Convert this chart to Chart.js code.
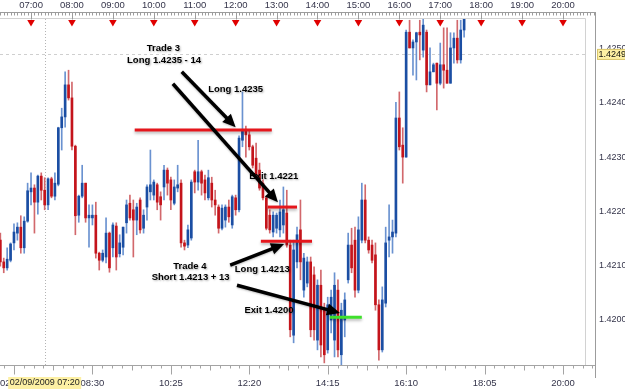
<!DOCTYPE html>
<html><head><meta charset="utf-8">
<script src="https://cdn.jsdelivr.net/npm/chart.js@4.4.0/dist/chart.umd.min.js"></script>
<style>html,body{margin:0;padding:0;background:#fff;}#wrap{width:625px;height:390px;}</style>
</head><body><div id="wrap"><canvas id="c" width="625" height="390"></canvas></div>
<script>
// ---------- data (5-minute bars, 02/09/2009) ----------
const times = [
'06:15','06:20','06:25','06:30','06:35','06:40','06:45','06:50','06:55',
'07:00','07:05','07:10','07:15','07:20','07:25','07:30','07:35','07:40','07:45','07:50','07:55',
'08:00','08:05','08:10','08:15','08:20','08:25','08:30','08:35','08:40','08:45','08:50','08:55',
'09:00','09:05','09:10','09:15','09:20','09:25','09:30','09:35','09:40','09:45','09:50','09:55',
'10:00','10:05','10:10','10:15','10:20','10:25','10:30','10:35','10:40','10:45','10:50','10:55',
'11:00','11:05','11:10','11:15','11:20','11:25','11:30','11:35','11:40','11:45','11:50','11:55',
'12:00','12:05','12:10','12:15','12:20','12:25','12:30','12:35','12:40','12:45','12:50','12:55',
'13:00','13:05','13:10','13:15','13:20','13:25','13:30','13:35','13:40','13:45','13:50','13:55',
'14:00','14:05','14:10','14:15','14:20','14:25','14:30','14:35','14:40','14:45','14:50','14:55',
'15:00','15:05','15:10','15:15','15:20','15:25','15:30','15:35','15:40','15:45','15:50','15:55',
'16:00','16:05','16:10','16:15','16:20','16:25','16:30','16:35','16:40','16:45','16:50','16:55',
'17:00','17:05','17:10','17:15','17:20','17:25','17:30','17:35'];

const opens = [1.42147,1.42107,1.42096,1.42110,1.42142,1.42160,1.42171,1.42133,1.42182,1.42236,
 1.42243,1.42217,1.42265,1.42239,1.42212,1.42260,1.42228,1.42250,1.42354,1.42374,
 1.42433,1.42409,1.42320,1.42193,1.42228,1.42252,1.42188,1.42188,1.42193,1.42123,
 1.42110,1.42116,1.42160,1.42133,1.42173,1.42122,1.42134,1.42179,1.42215,1.42203,
 1.42184,1.42221,1.42169,1.42208,1.42236,1.42230,1.42249,1.42227,1.42245,1.42276,
 1.42258,1.42215,1.42243,1.42252,1.42142,1.42138,1.42151,1.42273,1.42254,1.42273,
 1.42258,1.42225,1.42252,1.42221,1.42208,1.42169,1.42184,1.42208,1.42175,1.42225,
 1.42203,1.42331,1.42350,1.42341,1.42319,1.42298,1.42276,1.42252,1.42225,1.42193,
 1.42162,1.42169,1.42166,1.42175,1.42197,1.42138,1.41972,1.42107,1.42166,1.42055,
 1.42068,1.42107,1.42083,1.41963,1.42064,1.42018,1.41945,1.42000,1.41963,1.42055,
 1.41936,1.42000,1.42074,1.42138,1.42147,1.42055,1.42147,1.42221,1.42147,1.42138,
 1.42120,1.42028,1.41945,1.42031,1.42147,1.42153,1.42160,1.42372,1.42322,1.42300,
 1.42530,1.42501,1.42512,1.42530,1.42497,1.42530,1.42433,1.42457,1.42473,1.42436,
 1.42470,1.42460,1.42436,1.42501,1.42519,1.42479,1.42534];

const highs = [1.42160,1.42114,1.42133,1.42142,1.42177,1.42179,1.42192,1.42190,1.42252,1.42271,
 1.42249,1.42267,1.42271,1.42262,1.42262,1.42263,1.42271,1.42355,1.42390,1.42457,
 1.42460,1.42438,1.42322,1.42230,1.42285,1.42252,1.42212,1.42212,1.42217,1.42125,
 1.42129,1.42188,1.42162,1.42179,1.42179,1.42157,1.42171,1.42221,1.42230,1.42221,
 1.42215,1.42225,1.42203,1.42249,1.42313,1.42258,1.42252,1.42236,1.42285,1.42280,
 1.42263,1.42258,1.42285,1.42258,1.42147,1.42175,1.42258,1.42276,1.42331,1.42276,
 1.42267,1.42276,1.42263,1.42239,1.42212,1.42212,1.42212,1.42221,1.42230,1.42230,
 1.42339,1.42420,1.42357,1.42350,1.42322,1.42326,1.42289,1.42258,1.42228,1.42203,
 1.42199,1.42197,1.42221,1.42245,1.42239,1.42147,1.42147,1.42171,1.42221,1.42123,
 1.42116,1.42116,1.42098,1.42074,1.42092,1.42031,1.42042,1.42055,1.42087,1.42074,
 1.42031,1.42050,1.42160,1.42169,1.42171,1.42190,1.42252,1.42249,1.42153,1.42147,
 1.42142,1.42037,1.42061,1.42171,1.42212,1.42184,1.42401,1.42420,1.42354,1.42534,
 1.42552,1.42516,1.42530,1.42552,1.42556,1.42534,1.42501,1.42473,1.42473,1.42510,
 1.42538,1.42538,1.42529,1.42529,1.42552,1.42552,1.42571];

const lows = [1.42099,1.42087,1.42092,1.42107,1.42129,1.42147,1.42123,1.42123,1.42180,1.42212,
 1.42160,1.42195,1.42221,1.42203,1.42203,1.42225,1.42221,1.42247,1.42313,1.42355,
 1.42405,1.42313,1.42157,1.42180,1.42225,1.42180,1.42134,1.42175,1.42114,1.42092,
 1.42107,1.42105,1.42088,1.42116,1.42092,1.42116,1.42120,1.42160,1.42184,1.42116,
 1.42157,1.42160,1.42160,1.42184,1.42221,1.42221,1.42203,1.42184,1.42221,1.42230,
 1.42203,1.42212,1.42236,1.42134,1.42129,1.42133,1.42147,1.42234,1.42239,1.42230,
 1.42221,1.42221,1.42208,1.42193,1.42160,1.42166,1.42171,1.42180,1.42169,1.42193,
 1.42199,1.42319,1.42300,1.42313,1.42280,1.42263,1.42239,1.42221,1.42166,1.42160,
 1.42153,1.42160,1.42153,1.42160,1.42134,1.41969,1.41958,1.42096,1.42074,1.42042,
 1.42061,1.41969,1.41963,1.41945,1.41932,1.41921,1.41939,1.41976,1.41932,1.41932,
 1.41917,1.41969,1.42068,1.42087,1.42042,1.42050,1.42142,1.42142,1.42123,1.42105,
 1.42018,1.41926,1.41941,1.42024,1.42116,1.42123,1.42153,1.42313,1.42252,1.42300,
 1.42501,1.42451,1.42442,1.42479,1.42484,1.42420,1.42433,1.42457,1.42387,1.42433,
 1.42427,1.42436,1.42436,1.42473,1.42473,1.42473,1.42521];

const closes = [1.42107,1.42096,1.42112,1.42140,1.42162,1.42171,1.42133,1.42182,1.42238,1.42243,
 1.42217,1.42265,1.42239,1.42212,1.42260,1.42228,1.42252,1.42354,1.42374,1.42433,
 1.42409,1.42320,1.42192,1.42228,1.42252,1.42188,1.42193,1.42193,1.42123,1.42110,
 1.42123,1.42160,1.42096,1.42175,1.42116,1.42142,1.42171,1.42212,1.42188,1.42184,
 1.42208,1.42166,1.42193,1.42245,1.42249,1.42254,1.42217,1.42212,1.42276,1.42252,
 1.42221,1.42245,1.42249,1.42142,1.42136,1.42166,1.42254,1.42254,1.42273,1.42252,
 1.42234,1.42262,1.42221,1.42212,1.42169,1.42206,1.42208,1.42190,1.42227,1.42203,
 1.42335,1.42350,1.42341,1.42319,1.42285,1.42267,1.42243,1.42225,1.42169,1.42166,
 1.42193,1.42193,1.42199,1.42203,1.42138,1.41982,1.42129,1.42157,1.42107,1.42114,
 1.42107,1.41982,1.41982,1.42064,1.41954,1.41936,1.42028,1.42042,1.42064,1.41945,
 1.42018,1.42037,1.42138,1.42096,1.42055,1.42166,1.42221,1.42147,1.42129,1.42110,
 1.42028,1.41945,1.42037,1.42142,1.42153,1.42162,1.42372,1.42319,1.42300,1.42530,
 1.42501,1.42512,1.42529,1.42525,1.42543,1.42433,1.42457,1.42470,1.42436,1.42470,
 1.42460,1.42436,1.42501,1.42519,1.42479,1.42534,1.42562];

// axis ticks / labels
const hourLabels = ['07:00','08:00','09:00','10:00','11:00','12:00','13:00','14:00','15:00','16:00','17:00','18:00','19:00','20:00'];
const bottomLabels = ['08:30','10:25','12:20','14:15','16:10','18:05','20:00'];
const priceLabels = ['1.4200','1.4210','1.4220','1.4230','1.4240','1.4250'];
const lastPrice = 1.4249;
const cursorTime = '07:20';
const cursorLabel = '02/09/2009 07:20';
const viewStart = '06:14:30', viewEnd = '20:33:42';
const priceMin = 1.419153, priceMax = 1.425543;

// annotations (time, price)
const levelLines = [
  {from:'09:32', to:'12:53', price:1.42350, kind:'stop'},
  {from:'12:47', to:'13:30', price:1.42208, kind:'stop'},
  {from:'12:37', to:'13:52', price:1.42145, kind:'stop'},
  {from:'14:18', to:'15:05', price:1.42005, kind:'target'}
];
const arrows = [
  {from:['10:41',1.42457], to:['12:00',1.42355]},
  {from:['10:28',1.42435], to:['13:02',1.42217]},
  {from:['11:52',1.42101], to:['13:11',1.42140]},
  {from:['12:02',1.42064], to:['14:33',1.42013]}
];
const notes = [
  {text:'Trade 3', at:['10:14',1.42501]},
  {text:'Long 1.4235 - 14', at:['10:15',1.42479]},
  {text:'Long 1.4235', at:['12:00',1.42424]},
  {text:'Exit 1.4221', at:['12:56',1.42265]},
  {text:'Trade 4', at:['10:53',1.42099]},
  {text:'Short 1.4213 + 13', at:['10:54',1.42079]},
  {text:'Long 1.4213', at:['12:39',1.42094]},
  {text:'Exit 1.4200', at:['12:49',1.42018]}
];

// ---------- helpers ----------
function toMin(s){ const p = s.split(':').map(Number); return p[0]*60 + p[1] + (p[2]||0)/60; }
const xVals = times.map(toMin);
const isUp = closes.map((c,i)=>c>=opens[i]);
const FONT = '"Liberation Sans", Arial, sans-serif';

const deco = {
  id:'deco',
  beforeDatasetsDraw(chart){
    const {ctx, chartArea:a, scales:{x,y}} = chart;
    ctx.save();
    ctx.lineWidth = 1;
    ctx.strokeStyle = '#d2d2d2';
    ctx.beginPath();
    ctx.moveTo(a.left, a.top - 0.5); ctx.lineTo(a.right - 0.5, a.top - 0.5); ctx.lineTo(a.right - 0.5, a.bottom);
    ctx.stroke();
    const cx = Math.round(x.getPixelForValue(toMin(cursorTime))) + 0.5;
    ctx.setLineDash([1,2]); ctx.strokeStyle = '#b4b4b4';
    ctx.beginPath(); ctx.moveTo(cx, a.top); ctx.lineTo(cx, a.bottom); ctx.stroke();
    const ly = Math.round(y.getPixelForValue(lastPrice)) + 0.5;
    ctx.setLineDash([3,3]); ctx.strokeStyle = '#cfcfcf';
    ctx.beginPath(); ctx.moveTo(a.left, ly); ctx.lineTo(a.right, ly); ctx.stroke();
    ctx.restore();
  },
  afterDatasetsDraw(chart){
    const {ctx, scales:{x,y}} = chart;
    ctx.save();
    // level lines
    ctx.lineWidth = 3;
    ctx.shadowColor = 'rgba(0,0,0,0.28)'; ctx.shadowBlur = 3; ctx.shadowOffsetY = 2;
    levelLines.forEach(l=>{
      const py = y.getPixelForValue(l.price);
      ctx.strokeStyle = l.kind === 'target' ? '#3fe02c' : '#e5161c';
      ctx.beginPath(); ctx.moveTo(x.getPixelForValue(toMin(l.from)), py); ctx.lineTo(x.getPixelForValue(toMin(l.to)), py); ctx.stroke();
    });
    // arrows
    ctx.strokeStyle = '#000'; ctx.fillStyle = '#000'; ctx.lineWidth = 3.5;
    ctx.shadowColor = 'rgba(0,0,0,0.25)'; ctx.shadowBlur = 2; ctx.shadowOffsetY = 1;
    arrows.forEach(ar=>{
      const x1 = x.getPixelForValue(toMin(ar.from[0])), y1 = y.getPixelForValue(ar.from[1]);
      const x2 = x.getPixelForValue(toMin(ar.to[0])), y2 = y.getPixelForValue(ar.to[1]);
      const ang = Math.atan2(y2-y1, x2-x1), hl = 13, hw = 6;
      const bx = x2 - hl*Math.cos(ang), by = y2 - hl*Math.sin(ang);
      ctx.beginPath(); ctx.moveTo(x1,y1); ctx.lineTo(bx + 2*Math.cos(ang), by + 2*Math.sin(ang)); ctx.stroke();
      ctx.beginPath();
      ctx.moveTo(x2,y2);
      ctx.lineTo(bx + hw*Math.sin(ang), by - hw*Math.cos(ang));
      ctx.lineTo(bx - hw*Math.sin(ang), by + hw*Math.cos(ang));
      ctx.closePath(); ctx.fill();
    });
    // notes
    ctx.font = 'bold 9.5px ' + FONT;
    ctx.textAlign = 'center'; ctx.textBaseline = 'middle';
    ctx.shadowColor = 'rgba(0,0,0,0.3)'; ctx.shadowBlur = 2; ctx.shadowOffsetX = 1; ctx.shadowOffsetY = 1;
    ctx.fillStyle = '#000';
    notes.forEach(n=>{
      ctx.fillText(n.text, x.getPixelForValue(toMin(n.at[0])), y.getPixelForValue(n.at[1]));
    });
    ctx.restore();
  },
  afterDraw(chart){
    const {ctx, chartArea:a, scales:{x,y}} = chart;
    const axisX = 595.5;
    ctx.save();
    ctx.lineWidth = 1;
    // ----- top time ruler -----
    ctx.strokeStyle = '#9c9c9c';
    ctx.beginPath(); ctx.moveTo(0, 12.5); ctx.lineTo(axisX, 12.5); ctx.stroke();
    ctx.beginPath();
    for (let t = toMin(times[0]); ; t += 5){
      const px = Math.round(x.getPixelForValue(t)) + 0.5;
      if (px > axisX) break;
      const major = (t % 60) === 0;
      ctx.moveTo(px, 12.5); ctx.lineTo(px, major ? 19.5 : 15.5);
    }
    ctx.moveTo(axisX, 12.5); ctx.lineTo(axisX, 19.5);
    ctx.stroke();
    ctx.font = '9.5px ' + FONT; ctx.fillStyle = '#34344a';
    ctx.textAlign = 'center'; ctx.textBaseline = 'middle';
    hourLabels.forEach(h=>{ ctx.fillText(h, x.getPixelForValue(toMin(h)), 5.5); });
    // hour markers
    ctx.fillStyle = '#e00000';
    hourLabels.forEach(h=>{
      const px = x.getPixelForValue(toMin(h));
      ctx.beginPath(); ctx.moveTo(px-3.8, 20); ctx.lineTo(px+3.8, 20); ctx.lineTo(px, 26.5); ctx.closePath(); ctx.fill();
    });
    // ----- bottom ruler -----
    const by = a.bottom - 0.5;
    ctx.strokeStyle = '#a4a4a4';
    ctx.beginPath(); ctx.moveTo(0, by); ctx.lineTo(axisX, by); ctx.stroke();
    const t0 = toMin(bottomLabels[0]), step = (toMin(bottomLabels[1]) - t0) / 8;
    ctx.beginPath();
    for (let k = -12; k < 80; k++){
      const px = Math.round(x.getPixelForValue(t0 + k*step)) + 0.5;
      if (px < 0 || px > axisX) continue;
      const km = ((k % 8) + 8) % 8;
      const len = km === 0 ? 9 : (km === 4 ? 5 : 3);
      ctx.moveTo(px, by); ctx.lineTo(px, by + len);
    }
    ctx.stroke();
    ctx.fillStyle = '#34344a';
    bottomLabels.forEach(l=>{ ctx.fillText(l, x.getPixelForValue(toMin(l)), 383); });
    ctx.textAlign = 'left'; ctx.fillText('02', 0, 383);
    // cursor time box
    const cx = x.getPixelForValue(toMin(cursorTime));
    ctx.fillStyle = '#fdf0a4';
    ctx.fillRect(cx - 36.5, 377, 73, 12);
    ctx.fillStyle = '#222';
    ctx.font = '9px ' + FONT; ctx.textAlign = 'center';
    ctx.fillText(cursorLabel, cx, 383);
    // ----- right price axis -----
    ctx.strokeStyle = '#9c9c9c';
    ctx.beginPath(); ctx.moveTo(axisX, 12); ctx.lineTo(axisX, 378); ctx.stroke();
    ctx.beginPath();
    for (let k = 4192; k <= 4255; k += 2){
      const py = Math.round(y.getPixelForValue(k/10000)) + 0.5;
      if (py < a.top || py > 378) continue;
      if (k % 10 === 0){ ctx.moveTo(591, py); ctx.lineTo(598, py); }
      else { ctx.moveTo(592, py); ctx.lineTo(axisX, py); }
    }
    ctx.stroke();
    ctx.font = '9px ' + FONT; ctx.fillStyle = '#34344a'; ctx.textAlign = 'left'; ctx.textBaseline = 'middle';
    priceLabels.forEach(p=>{ ctx.fillText(p, 599, y.getPixelForValue(parseFloat(p))); });
    // last price box
    const ly = y.getPixelForValue(lastPrice);
    ctx.fillStyle = '#fdf0a4'; ctx.fillRect(597, ly - 5, 28, 10.5);
    ctx.strokeStyle = '#d9c66a'; ctx.strokeRect(597.5, ly - 4.5, 28, 10);
    ctx.fillStyle = '#111';
    ctx.fillText(lastPrice.toFixed(4), 598.5, ly + 0.5);
    ctx.restore();
  }
};

new Chart(document.getElementById('c'), {
  type: 'bar',
  data: {
    datasets: [
      { label:'High-Low', data: xVals.map((t,i)=>({x:t, y:[lows[i], highs[i]]})),
        backgroundColor: isUp.map(u=>u ? '#6a92d0' : '#d2686c'),
        barThickness: 1, grouped:false, borderWidth:0, order:2 },
      { label:'Open-Close', data: xVals.map((t,i)=>({x:t, y:[opens[i], closes[i]]})),
        backgroundColor: isUp.map(u=>u ? '#1b4ea3' : '#c4141b'),
        barThickness: 2, minBarLength: 1, grouped:false, borderWidth:0, order:1 }
    ]
  },
  options: {
    responsive:false, animation:false, events:[],
    layout:{ padding:{ left:0, top:19, right:39, bottom:24 } },
    plugins:{ legend:{display:false}, tooltip:{enabled:false} },
    scales:{
      x:{ type:'linear', display:false, offset:false, min: toMin(viewStart), max: toMin(viewEnd) },
      y:{ type:'linear', display:false, beginAtZero:false, min: priceMin, max: priceMax }
    }
  },
  plugins:[deco]
});
</script></body></html>
